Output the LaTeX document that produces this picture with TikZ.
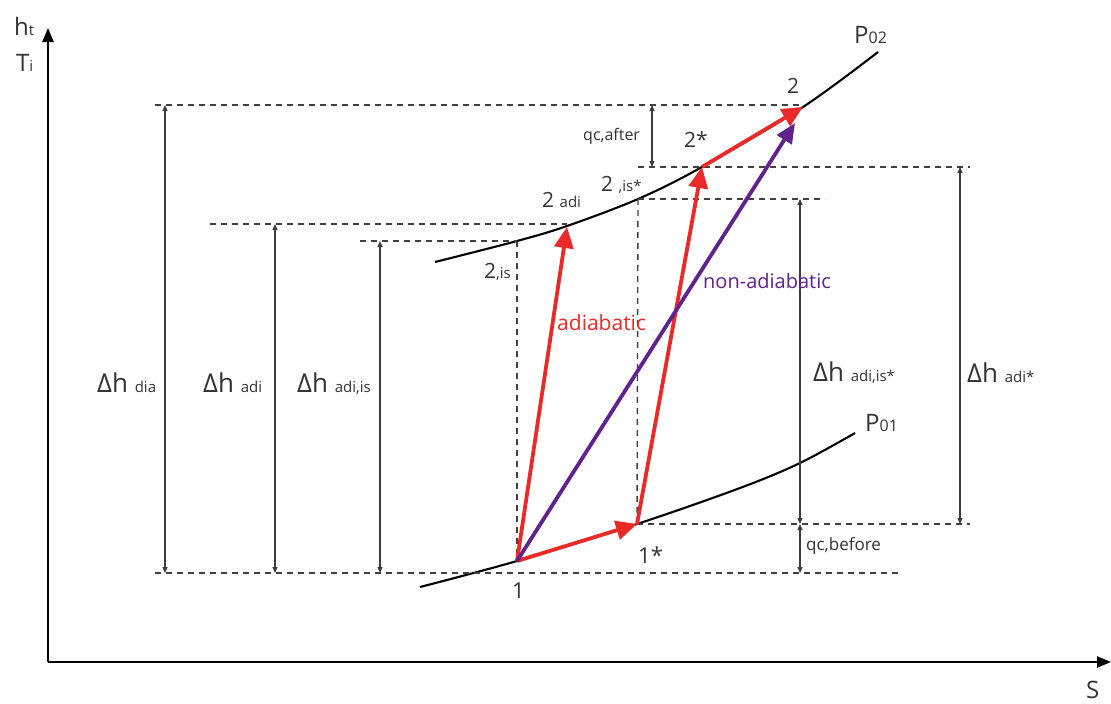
\documentclass[tikz,border=0pt]{standalone}
\usepackage{fontspec}
\setmainfont{Open Sans}
\usetikzlibrary{arrows.meta}
\definecolor{ared}{RGB}{234,42,40}
\definecolor{apurple}{RGB}{96,34,140}
\definecolor{dimgray}{RGB}{60,60,60}
\newcommand{\fsz}[1]{\fontsize{#1}{#1}\selectfont}
\newcommand{\lab}[4]{{\fsz{#1}#2}{\fsz{#3}#4}}
\begin{document}
\begin{tikzpicture}[x=1pt,y=-1pt,
  txt/.style={inner sep=0pt,anchor=base west,text=black!80},
  axis/.style={line width=2.4pt,-{Triangle[length=14pt,width=11pt]}},
  curve/.style={line width=2.1pt,black},
  guide/.style={draw=black!75,line width=1.4pt,dash pattern=on 6pt off 5pt},
  dimline/.style={draw=dimgray,line width=1.2pt,{Triangle[length=6pt,width=5pt]}-{Triangle[length=6pt,width=5pt]}},
  redarrow/.style={draw=ared,line width=3.8pt,-{Triangle[length=21pt,width=19pt]}},
  purplearrow/.style={draw=apurple,line width=3.8pt,-{Triangle[length=20pt,width=17pt]}}]
\useasboundingbox (0,0) rectangle (1111,704);
% axes
\coordinate (o) at (48,662);
\coordinate (ytop) at (48,28);
\coordinate (xend) at (1111,662);
\draw[axis] (o) -- (ytop);
\draw[axis] (o) -- (xend);
\node[txt] (ht) at (14,35) {\lab{24}{h}{15}{t}};
\node[txt] (ti) at (16,71) {\lab{24}{T}{15}{i}};
\node[txt] (s) at (1086,698) {\fsz{24}S};
% state points
\coordinate (p1) at (517,561);
\coordinate (p1s) at (637,524);
\coordinate (p2is) at (517,241);
\coordinate (p2adi) at (567,227);
\coordinate (p2iss) at (638,199);
\coordinate (p2s) at (702,167);
\coordinate (p2) at (803,107);
\coordinate (pna) at (795,123);
% isobars
\draw[curve] plot[smooth,tension=0.55] coordinates {(435,262) (517,241) (567,226) (638,199) (702,167) (803,107) (878,52)};
\draw[curve] plot[smooth,tension=0.55] coordinates {(420,587) (517,561) (637,524) (740,488) (800,463) (855,433)};
\node[txt] (p02) at (854,43) {\lab{24}{P}{16}{02}};
\node[txt] (p01) at (865,431) {\lab{24}{P}{16}{01}};
% guide lines
\coordinate (g1a) at (155,105); \coordinate (g1b) at (800,105);
\coordinate (g2a) at (638,167); \coordinate (g2b) at (970,167);
\coordinate (g3a) at (638,199); \coordinate (g3b) at (825,199);
\coordinate (g4a) at (210,224); \coordinate (g4b) at (567,224);
\coordinate (g5a) at (360,241); \coordinate (g5b) at (517,241);
\coordinate (g6a) at (637,524); \coordinate (g6b) at (970,524);
\coordinate (g7a) at (155,573); \coordinate (g7b) at (900,573);
\draw[guide] (g1a) -- (g1b);
\draw[guide] (g2a) -- (g2b);
\draw[guide] (g3a) -- (g3b);
\draw[guide] (g4a) -- (g4b);
\draw[guide] (g5a) -- (g5b);
\draw[guide] (g6a) -- (g6b);
\draw[guide] (g7a) -- (g7b);
\draw[guide] (p2is) -- (p1);
\draw[guide] (p2iss) -- (p1s);
% dimension arrows
\coordinate (d1a) at (165,105); \coordinate (d1b) at (165,573);
\coordinate (d2a) at (275,224); \coordinate (d2b) at (275,573);
\coordinate (d3a) at (380,241); \coordinate (d3b) at (380,573);
\coordinate (d4a) at (652,105); \coordinate (d4b) at (652,167);
\coordinate (d5a) at (800,199); \coordinate (d5b) at (800,524);
\coordinate (d6b) at (800,573);
\coordinate (d7a) at (960,167); \coordinate (d7b) at (960,524);
\draw[dimline] (d1a) -- (d1b);
\draw[dimline] (d2a) -- (d2b);
\draw[dimline] (d3a) -- (d3b);
\draw[dimline] (d4a) -- (d4b);
\draw[dimline] (d5a) -- (d5b);
\draw[dimline] (d5b) -- (d6b);
\draw[dimline] (d7a) -- (d7b);
\node[txt] (ldia) at (97,392) {\lab{26}{Δh }{15}{dia}};
\node[txt] (ladi) at (203,392) {\lab{26}{Δh }{15}{adi}};
\node[txt] (ladiis) at (297,392) {\lab{26}{Δh }{15}{adi,is}};
\node[txt] (ladiiss) at (813,381) {\lab{26}{Δh }{15}{adi,is*}};
\node[txt] (ladis) at (967,382) {\lab{26}{Δh }{15}{adi*}};
\node[txt] (qafter) at (583,140) {\fsz{16}qc,after};
\node[txt] (qbefore) at (806,550) {\fsz{17}qc,before};
% process arrows
\draw[redarrow] (p1) -- (p2adi);
\draw[redarrow] (p1) -- (p1s);
\draw[redarrow] (p1s) -- (p2s);
\draw[redarrow] (p2s) -- (p2);
\draw[purplearrow] (p1) -- (pna);
\node[txt,text=ared] (ladiab) at (557,330) {\fsz{21}adiabatic};
\node[txt,text=apurple] (lnonad) at (703,288) {\fsz{20}non-adiabatic};
% point labels
\node[txt] (l1) at (512,598) {\fsz{22}1};
\node[txt] (l1s) at (638,563) {\fsz{22}1*};
\node[txt] (l2is) at (484,278) {\lab{21}{2}{15}{,is}};
\node[txt] (l2adi) at (542,207) {\lab{21}{2 }{15}{adi}};
\node[txt] (l2iss) at (601,191) {\lab{21}{2 }{15}{,is*}};
\node[txt] (l2s) at (684,147) {\fsz{21}2*};
\node[txt] (l2) at (787,93) {\fsz{21}2};
\end{tikzpicture}
\end{document}
